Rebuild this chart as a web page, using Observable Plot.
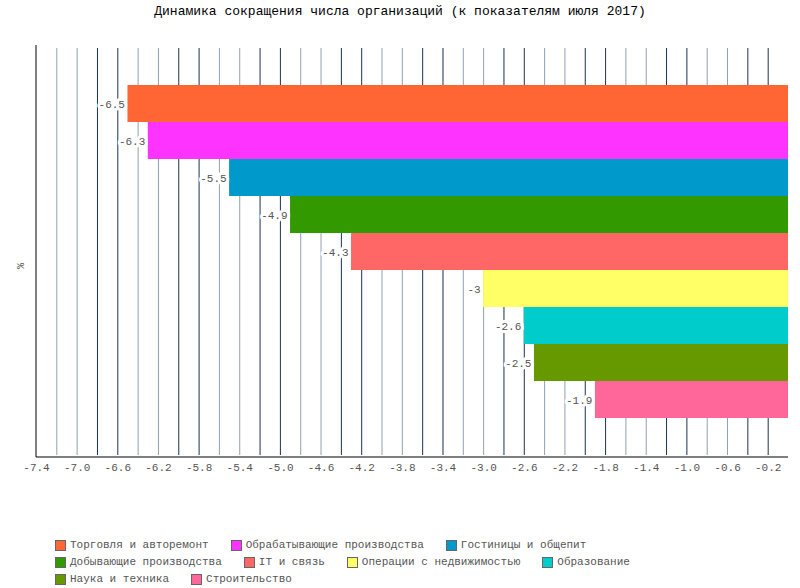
<!DOCTYPE html>
<html><head><meta charset="utf-8">
<script src="https://cdn.jsdelivr.net/npm/d3@7"></script>
<script src="https://cdn.jsdelivr.net/npm/@observablehq/plot@0.6"></script>
<style>
body{margin:0;background:#fff;font-family:"Liberation Mono","DejaVu Sans Mono",monospace;}
#title{height:30px;line-height:24px;text-align:center;font-size:13px;color:#000;}
#legend{margin:52px 0 0 55px;width:690px;font-size:11px;color:#555;display:flex;flex-wrap:wrap;column-gap:22px;row-gap:5px;}
.it{display:flex;align-items:center;white-space:nowrap}
.sw{width:9px;height:9px;border:1px solid #666;margin-right:4px}
</style></head><body>
<div id="title">Динамика сокращения числа организаций (к показателям июля 2017)</div>
<div id="chart"></div>
<div id="legend"></div>
<script>
const categories = ["Торговля и авторемонт","Обрабатывающие производства","Гостиницы и общепит","Добывающие производства","IT и связь","Операции с недвижимостью","Образование","Наука и техника","Строительство"];
const values = [-6.5,-6.3,-5.5,-4.9,-4.3,-3,-2.6,-2.5,-1.9];
const colors = ["#ff6633","#ff33ff","#0099cc","#339900","#ff6666","#ffff66","#00cccc","#669900","#ff6699"];
const tickValues = [-7.4,-7.0,-6.6,-6.2,-5.8,-5.4,-5.0,-4.6,-4.2,-3.8,-3.4,-3.0,-2.6,-2.2,-1.8,-1.4,-1.0,-0.6,-0.2];
const gridValues = d3.range(36).map(i => +(-7.2 + i*0.2).toFixed(1));

const data = categories.map((c,i)=>({c, v: values[i], col: colors[i]}));
const yDomain = ["_top", ...categories, "_bot"];
const plot = Plot.plot({
  width: 800, height: 457,
  marginLeft: 36, marginRight: 12, marginTop: 20, marginBottom: 30,
  style:{fontFamily:'"Liberation Mono","DejaVu Sans Mono",monospace', fontSize:"11px", color:"#555"},
  x:{domain:[-7.4,0], ticks: tickValues, tickFormat: d=>d.toFixed(1), label:null},
  y:{domain:yDomain, padding:0, axis:null, label:null, range:[16,426]},
  marks:[
    Plot.ruleX(gridValues, {y1:()=>"_top", y2:()=>"_bot", stroke: (d,i)=> (Math.floor(i/2)%2===0 ? "#8fa0b5" : "#1a3350"), strokeWidth:1}),
    Plot.barX(data, {y:"c", x1:"v", x2:0, fill:"col"}),
    Plot.text(data, {y:"c", x:"v", text:d=>String(d.v), textAnchor:"end", dx:-3, fill:"#555", stroke:"white", strokeWidth:6, paintOrder:"stroke", fontSize:11}),
    Plot.axisX({ticks: tickValues, tickFormat:d=>d.toFixed(1), tickSize:0, tickPadding:6, fill:"#555", label:null})
  ]
});
const svg = d3.select(plot);
svg.append("line").attr("x1",36).attr("x2",788).attr("y1",427).attr("y2",427).attr("stroke","#000");
svg.append("line").attr("x1",36).attr("x2",36).attr("y1",15).attr("y2",427).attr("stroke","#000");
svg.append("text").attr("transform","translate(24,236) rotate(-90)").attr("text-anchor","middle").attr("font-size",10).attr("fill","#555").text("%");
document.getElementById("chart").append(plot);
const lg = document.getElementById("legend");
categories.forEach((c,i)=>{const d=document.createElement("div");d.className="it";d.innerHTML=`<span class="sw" style="background:${colors[i]}"></span>${c}`;lg.append(d);});
</script>
</body></html>
